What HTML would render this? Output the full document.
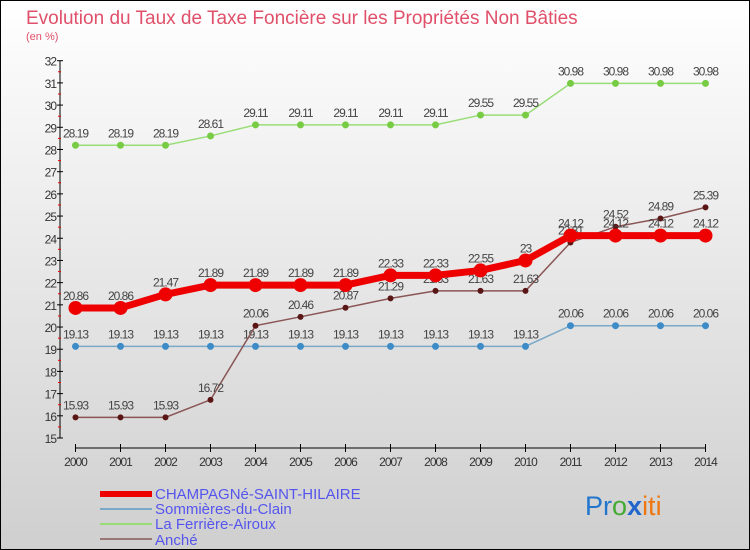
<!DOCTYPE html>
<html><head><meta charset="utf-8"><style>
body{margin:0;width:750px;height:550px;overflow:hidden;font-family:"Liberation Sans",sans-serif}
svg{display:block}
</style></head><body>
<svg id="c" width="750" height="550" xmlns="http://www.w3.org/2000/svg">
<defs><linearGradient id="bg" x1="0" y1="0" x2="0" y2="1"><stop offset="0" stop-color="#ffffff"/><stop offset="1" stop-color="#cfcfcf"/></linearGradient></defs>
<rect x="0.5" y="0.5" width="749" height="549" fill="url(#bg)" stroke="#000"/>
<text x="26" y="24" font-size="19" fill="#e0506a">Evolution du Taux de Taxe Foncière sur les Propriétés Non Bâties</text>
<text x="26" y="40" font-size="11" fill="#e0506a">(en %)</text>
<g id="axes"></g><g id="series"></g>
<g>
<line x1="100" y1="494" x2="152" y2="494" stroke="#ee0000" stroke-width="6"/>
<text x="155" y="499" font-size="15" fill="#5555ee">CHAMPAGNé-SAINT-HILAIRE</text>
<line x1="100" y1="509" x2="152" y2="509" stroke="#7aa8c8" stroke-width="2"/>
<text x="155" y="514" font-size="15" fill="#5555ee">Sommières-du-Clain</text>
<line x1="100" y1="524" x2="152" y2="524" stroke="#99dd77" stroke-width="2"/>
<text x="155" y="529" font-size="15" fill="#5555ee">La Ferrière-Airoux</text>
<line x1="100" y1="539" x2="152" y2="539" stroke="#997777" stroke-width="2"/>
<text x="155" y="545" font-size="15" fill="#5555ee">Anché</text>
</g>
<text x="585" y="515" font-size="27"><tspan fill="#2277cc">Pr</tspan><tspan fill="#44aa33">o</tspan><tspan fill="#2266cc" font-weight="bold">x</tspan><tspan fill="#ee7711">iti</tspan></text>
</svg>
<script>
const years=[2000,2001,2002,2003,2004,2005,2006,2007,2008,2009,2010,2011,2012,2013,2014];
const yTicks=[15,16,17,18,19,20,21,22,23,24,25,26,27,28,29,30,31,32];
const champagne=[20.86,20.86,21.47,21.89,21.89,21.89,21.89,22.33,22.33,22.55,23,24.12,24.12,24.12,24.12];
const sommieres=[19.13,19.13,19.13,19.13,19.13,19.13,19.13,19.13,19.13,19.13,19.13,20.06,20.06,20.06,20.06];
const ferriere=[28.19,28.19,28.19,28.61,29.11,29.11,29.11,29.11,29.11,29.55,29.55,30.98,30.98,30.98,30.98];
const anche=[15.93,15.93,15.93,16.72,20.06,20.46,20.87,21.29,21.63,21.63,21.63,23.81,24.52,24.89,25.39];
const NS="http://www.w3.org/2000/svg";
const X=i=>75.5+i*45;
const Y=v=>438-(v-15)*(377.3/17);
function mk(p,t,a){const e=document.createElementNS(NS,t);for(const k in a)e.setAttribute(k,a[k]);p.appendChild(e);return e;}
const ax=document.getElementById('axes'),se=document.getElementById('series');
let l=mk(ax,'line',{x1:60,y1:Y(32),x2:60,y2:Y(15),stroke:'#000'});


l=mk(ax,'line',{x1:X(0),y1:448,x2:X(14),y2:448,stroke:'#000'});


yTicks.forEach(v=>{mk(ax,'line',{x1:57,y1:Y(v),x2:63,y2:Y(v),stroke:'#000'});
 if(v<32)mk(ax,'line',{x1:58,y1:Y(v+0.5),x2:61,y2:Y(v+0.5),stroke:'#e00'});
 const t=mk(ax,'text',{x:56,y:Y(v)+5,'font-size':12,'text-anchor':'end',fill:'#333','letter-spacing':'-1'});t.textContent=v;
 
 });
years.forEach((y,i)=>{mk(ax,'line',{x1:X(i),y1:444,x2:X(i),y2:452,stroke:'#000'});
 const t=mk(ax,'text',{x:X(i),y:466,'font-size':12,'text-anchor':'middle',fill:'#333','letter-spacing':'-1'});t.textContent=y;
 
 });
function draw(d,name,col,w,r,dot){
 const g=mk(se,'g',{});
 
 
 mk(g,'polyline',{points:d.map((v,i)=>X(i)+','+Y(v)).join(' '),fill:'none',stroke:col,'stroke-width':w});
 d.forEach((v,i)=>{const c=mk(g,'circle',{cx:X(i),cy:Y(v),r:r,fill:dot});
  
  
  const t=mk(g,'text',{x:X(i),y:Y(v)-8,'font-size':12,'text-anchor':'middle',fill:'#444','letter-spacing':'-1'});t.textContent=v;
  
  });
}
draw(ferriere,'series-ferriere','#99dd77',1.5,3.5,'#77cc44');
draw(sommieres,'series-sommieres','#7aa8c8',1.5,3.5,'#3d8cc8');
draw(anche,'series-anche','#8a5555',1.5,3,'#5a1515');
draw(champagne,'series-champagne','#ee0000',7,7,'#ee0000');
</script>
</body></html>
